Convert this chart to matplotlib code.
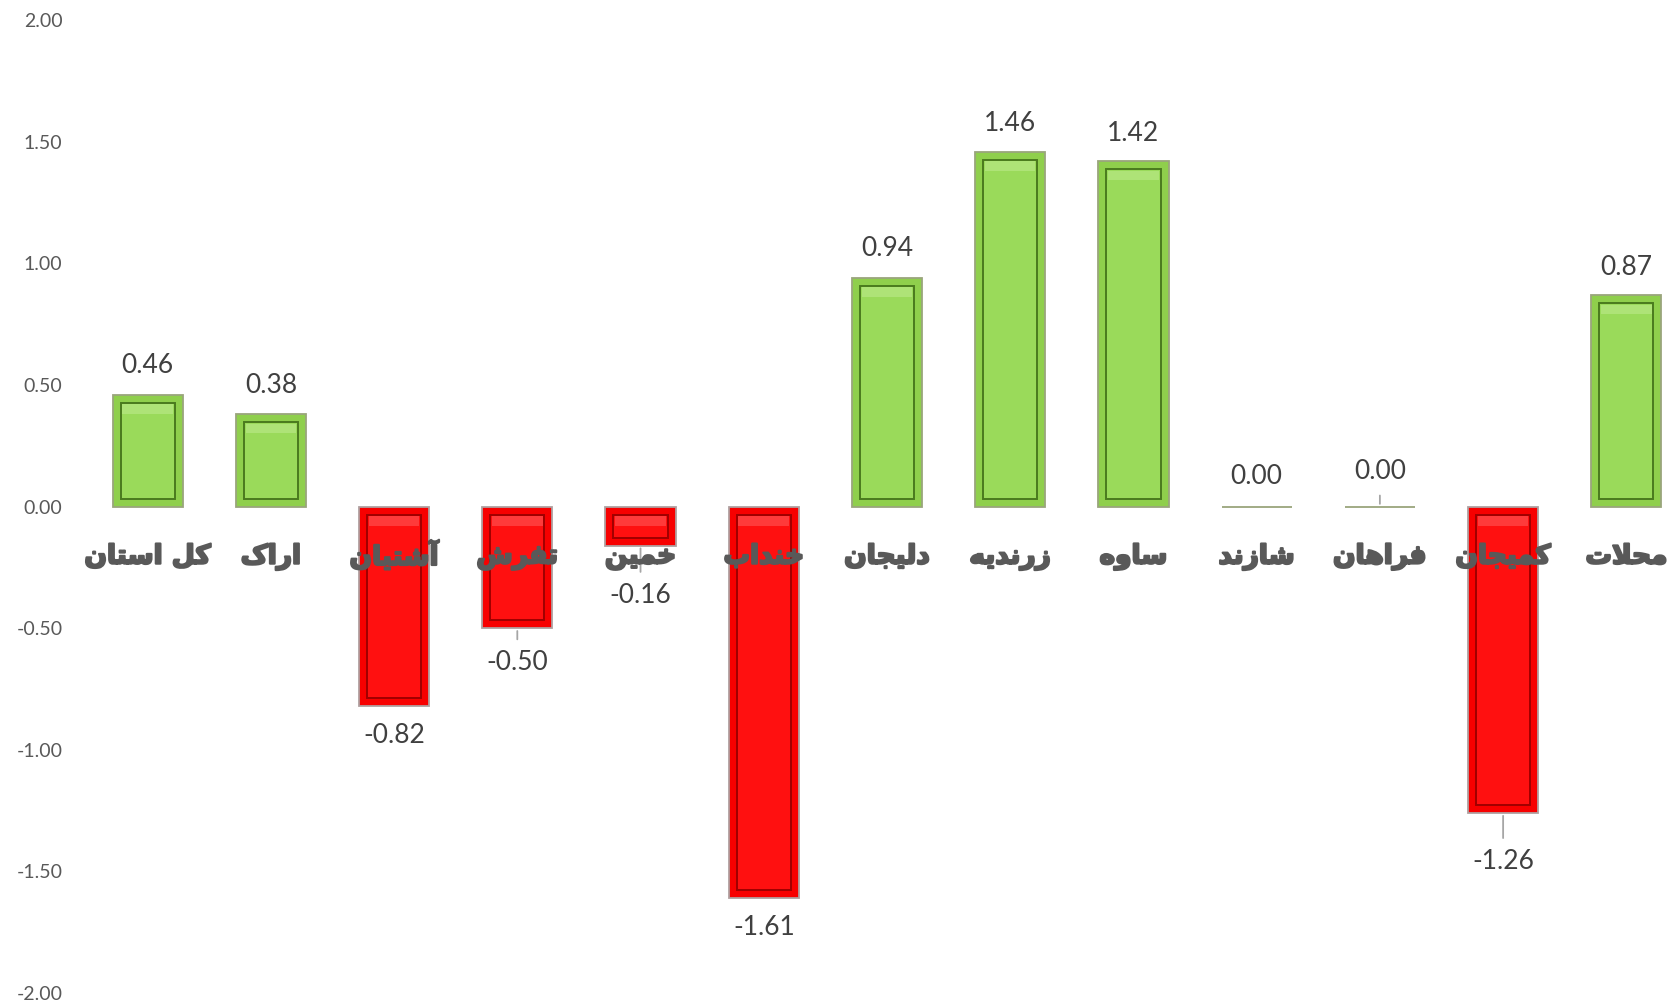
import numpy as np
import matplotlib
matplotlib.use("Agg")
import matplotlib.pyplot as plt
import matplotlib.patheffects as pe
from matplotlib import font_manager
from matplotlib.ft2font import FT2Font

# data
cities = ["کل استان", "اراک", "آشتیان", "تفرش", "خمین", "خنداب", "دلیجان",
          "زرندیه", "ساوه", "شازند", "فراهان", "کمیجان", "محلات"]
values = [0.46, 0.38, -0.82, -0.50, -0.16, -1.61, 0.94,
          1.46, 1.42, 0.00, 0.00, -1.26, 0.87]
yticks = [-2.0, -1.5, -1.0, -0.5, 0.0, 0.5, 1.0, 1.5, 2.0]

# label distance from bar end (points), bigger ones get a leader line
label_off = [21, 21, 21, 25, 36, 21, 21, 20, 20, 22, 25, 35, 20]

# ---- simple arabic/persian shaping (no raqm in matplotlib) ----
FORMS = {
    'ا': ('\uFE8D', '\uFE8E'), 'آ': ('\uFE81', '\uFE82'),
    'د': ('\uFEA9', '\uFEAA'), 'ر': ('\uFEAD', '\uFEAE'),
    'ز': ('\uFEAF', '\uFEB0'), 'و': ('\uFEED', '\uFEEE'),
    'لا': ('\uFEFB', '\uFEFC'), 'لآ': ('\uFEF5', '\uFEF6'),
    'ب': ('\uFE8F', '\uFE90', '\uFE91', '\uFE92'),
    'ت': ('\uFE95', '\uFE96', '\uFE97', '\uFE98'),
    'ج': ('\uFE9D', '\uFE9E', '\uFE9F', '\uFEA0'),
    'ح': ('\uFEA1', '\uFEA2', '\uFEA3', '\uFEA4'),
    'خ': ('\uFEA5', '\uFEA6', '\uFEA7', '\uFEA8'),
    'س': ('\uFEB1', '\uFEB2', '\uFEB3', '\uFEB4'),
    'ش': ('\uFEB5', '\uFEB6', '\uFEB7', '\uFEB8'),
    'ف': ('\uFED1', '\uFED2', '\uFED3', '\uFED4'),
    'ل': ('\uFEDD', '\uFEDE', '\uFEDF', '\uFEE0'),
    'م': ('\uFEE1', '\uFEE2', '\uFEE3', '\uFEE4'),
    'ن': ('\uFEE5', '\uFEE6', '\uFEE7', '\uFEE8'),
    'ه': ('\uFEE9', '\uFEEA', '\uFEEB', '\uFEEC'),
    'ی': ('\uFBFC', '\uFBFD', '\uFBFE', '\uFBFF'),
    'ک': ('\uFB8E', '\uFB8F', '\uFB90', '\uFB91'),
}
# fallback glyphs if the font misses the persian presentation forms
ALT = {'ی': ('\uFEEF', '\uFEF0', '\uFEF3', '\uFEF4'),
       'ک': ('\uFED9', '\uFEDA', '\uFEDB', '\uFEDC')}
try:
    fpath = font_manager.findfont(font_manager.FontProperties(family="DejaVu Sans", weight="bold"))
    cmap = FT2Font(fpath).get_charmap()
    for k, f in ALT.items():
        if any(ord(c) not in cmap for c in FORMS[k]):
            FORMS[k] = f
except Exception:
    pass


def shape(word):
    toks = []
    i = 0
    while i < len(word):
        if word[i] == 'ل' and i + 1 < len(word) and word[i + 1] in 'اآ':
            toks.append('ل' + word[i + 1])
            i += 2
        else:
            toks.append(word[i])
            i += 1
    out = []
    for k, t in enumerate(toks):
        f = FORMS.get(t)
        if f is None:
            out.append(t)
            continue
        prev = toks[k - 1] if k > 0 else None
        nxt = toks[k + 1] if k + 1 < len(toks) else None
        jp = prev in FORMS and len(FORMS[prev]) == 4
        jn = len(f) == 4 and nxt in FORMS
        if jp and jn:
            out.append(f[3])
        elif jp:
            out.append(f[1])
        elif jn:
            out.append(f[2])
        else:
            out.append(f[0])
    return ''.join(reversed(out))


fig = plt.figure(figsize=(16.67, 10.05), dpi=100)
ax = fig.add_axes([0.0516, 0.0119, 0.9484, 0.968])

x = np.arange(len(values))
vals = np.array(values)
w = 0.57
green = ['#8FCF4C', '#9ADA5A', '#4A7A1E']
red = ['#F70000', '#FF1010', '#A00000']

outer_c = [green[0] if v >= 0 else red[0] for v in vals]
inner_c = [green[1] if v >= 0 else red[1] for v in vals]
groove_c = [green[2] if v >= 0 else red[2] for v in vals]
edge_c = ['#9AA57C' if v >= 0 else '#B0A0A0' for v in vals]

ax.bar(x, vals, width=w, color=outer_c, edgecolor=edge_c, linewidth=1.3, zorder=2)

# bevel: inner rectangle inset a little
dx, dy = 0.065, 0.033
sgn = np.sign(vals)
mask = np.abs(vals) > 2.5 * dy
ax.bar(x[mask], vals[mask] - 2 * dy * sgn[mask], bottom=dy * sgn[mask],
       width=w - 2 * dx, color=np.array(inner_c)[mask],
       edgecolor=np.array(groove_c)[mask], linewidth=1.4, zorder=3)
# soft highlight at the top of the inner face
hl = 0.04
top = np.where(sgn > 0, vals - dy, -dy)
ax.bar(x[mask], -hl * np.ones(mask.sum()), bottom=top[mask] - 0.006,
       width=w - 2 * dx - 0.03,
       color=['#AEE377' if v > 0 else '#FF3A3A' for v in vals[mask]],
       linewidth=0, zorder=4)

for i, v in enumerate(vals):
    up = v >= 0
    off = label_off[i]
    ap = None
    if off > 23:
        ap = dict(arrowstyle='-', color='#A6A6A6', lw=1.3, shrinkA=6, shrinkB=2)
    ax.annotate(f"{v:.2f}", xy=(i, v), xytext=(0, off if up else -off),
                textcoords='offset points', ha='center', va='center',
                fontsize=19, color='#404040', family='Lato',
                arrowprops=ap, zorder=6)
    ax.annotate(shape(cities[i]), xy=(i, 0), xytext=(0, -36),
                textcoords='offset points', ha='center', va='center',
                fontsize=19, fontweight='bold', color='#595959',
                family='DejaVu Sans', zorder=7,
                path_effects=[pe.withStroke(linewidth=1.6, foreground='#595959')])

ax.set_xlim(-0.5, 12.33)
ax.set_ylim(-2, 2)
ax.set_yticks(yticks)
ax.set_yticklabels([f"{t:.2f}" for t in yticks], fontsize=14, color='#595959', family='Lato')
ax.tick_params(axis='y', length=0, pad=17)
ax.set_xticks([])
for s in ax.spines.values():
    s.set_visible(False)

fig.savefig("out.png", dpi=100)
